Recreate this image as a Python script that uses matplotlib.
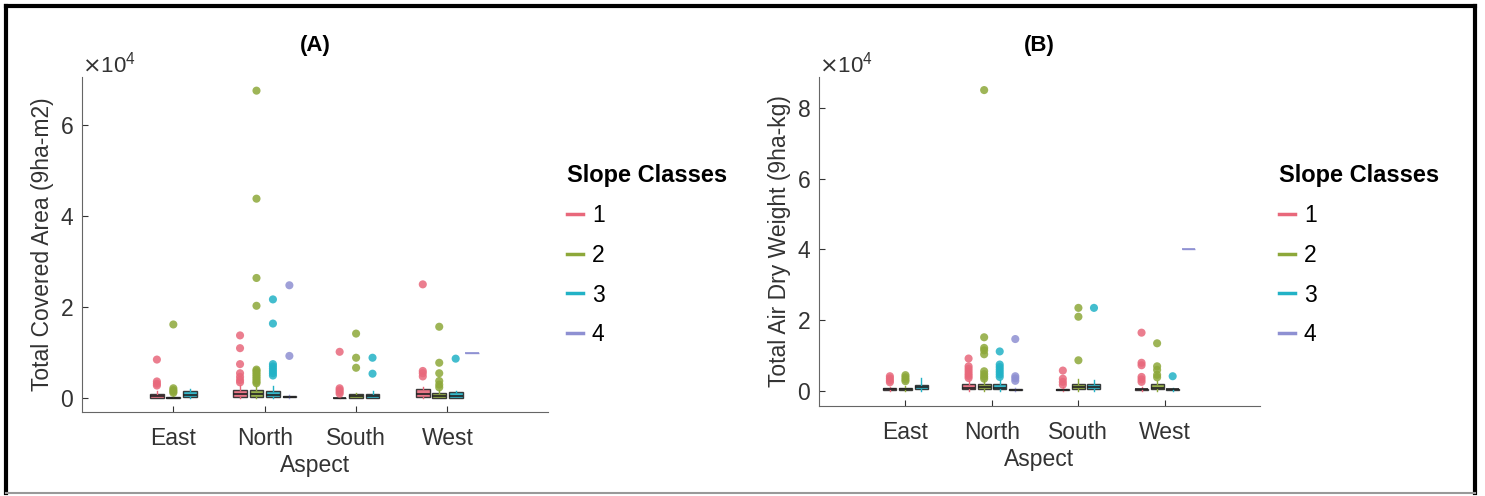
import numpy as np
import matplotlib
matplotlib.use("Agg")
import matplotlib.pyplot as plt
from matplotlib.lines import Line2D

plt.rcParams['font.family'] = ['Liberation Sans', 'DejaVu Sans']

aspects = ["East", "North", "South", "West"]
slope_classes = ["1", "2", "3", "4"]
class_colors = ["#E8687B", "#8DA83A", "#22B2C6", "#8E90D2"]

# (A) Total covered area -- box stats per aspect (rows) and slope class (cols), None = class absent
area_q1 = [[150, 50, 200, None], [300, 300, 200, 200], [0, 100, 100, None], [200, 100, 100, 10000]]
area_med = [[400, 150, 700, None], [900, 1000, 700, 350], [50, 400, 400, None], [1000, 600, 500, 10000]]
area_q3 = [[1000, 300, 1600, None], [1800, 1900, 1600, 500], [150, 900, 900, None], [2000, 1200, 1300, 10000]]
area_hi = [[1500, 600, 2000, None], [3000, 2800, 2800, 700], [300, 1200, 1500, None], [2500, 1800, 1600, 10000]]
area_out = [
    [[8500, 3700, 3200, 2800], [16200, 2200, 1800, 1500, 1200], [], None],
    [[13800, 11000, 7500, 5500, 4700, 4000, 3500],
     [67500, 43800, 26400, 20300, 6300, 6000, 5600, 5200, 4800, 4400, 4000, 3600, 3300],
     [21700, 16400, 7500, 7000, 6500, 6000, 5500, 5000],
     [24800, 9300]],
    [[10200, 2200, 1800, 1400, 1000], [14200, 8900, 6700], [8900, 5400], None],
    [[25000, 6000, 5500, 4800], [15700, 7800, 5500, 3800, 3000, 2400], [8700], []],
]

# (B) Total air dry weight
weight_q1 = [[300, 300, 600, None], [500, 600, 500, 300], [200, 600, 600, None], [300, 500, 300, 40000]]
weight_med = [[500, 500, 1100, None], [1000, 1100, 1000, 450], [400, 1200, 1200, None], [500, 1000, 500, 40000]]
weight_q3 = [[800, 800, 1800, None], [2000, 2000, 2000, 600], [600, 2000, 2000, None], [700, 1900, 700, 40000]]
weight_hi = [[1200, 1500, 3800, None], [2800, 2800, 3200, 800], [1200, 3500, 3000, None], [1200, 2800, 1000, 40000]]
weight_out = [
    [[4200, 3600, 3000, 2500], [4500, 3900, 3300, 2800], [], None],
    [[9200, 7000, 6300, 5600, 4900, 4300, 3700],
     [85000, 15200, 12200, 11500, 10400, 5600, 4800, 4100, 3500],
     [11200, 7500, 6800, 6100, 5400, 4700, 4000],
     [14700, 4200, 3600, 2900]],
    [[5800, 3500, 2600, 1800], [23500, 21000, 8700], [23500], None],
    [[16500, 8000, 7300, 4000, 3300, 2600], [13500, 7000, 6000, 4600, 3900], [4200], []],
]


def draw_panel(ax, q1, med, q3, hi, out, ylabel, title, ylim, yticks):
    spacing = 0.18
    for i, asp in enumerate(aspects):
        present = [j for j in range(4) if q1[i][j] is not None]
        n = len(present)
        for k, j in enumerate(present):
            pos = i + 1 + (k - (n - 1) / 2) * spacing
            col = class_colors[j]
            flat = q1[i][j] == q3[i][j]
            lo = max(q1[i][j] - 0.5 * (q3[i][j] - q1[i][j]), 0)
            stats = [dict(med=med[i][j], q1=q1[i][j], q3=q3[i][j],
                          whislo=min(lo, q1[i][j]), whishi=hi[i][j], fliers=[])]
            ax.bxp(stats, positions=[pos], widths=0.15, patch_artist=True,
                   showcaps=False, manage_ticks=False,
                   boxprops=dict(facecolor=col, edgecolor=col if flat else "#2b2b2b",
                                 linewidth=1.0, alpha=0.9),
                   medianprops=dict(color=col if flat else "#222222", linewidth=1.2),
                   whiskerprops=dict(color=col, linewidth=1.0))
            pts = out[i][j]
            if pts:
                ax.scatter(np.full(len(pts), pos), pts, s=34, color=col,
                           alpha=0.85, edgecolors="none", zorder=3)

    ax.set_xlim(0, 5.1)
    ax.set_ylim(*ylim)
    ax.set_xticks(range(1, 5))
    ax.set_xticklabels(aspects)
    ax.set_yticks(yticks)
    ax.ticklabel_format(axis='y', style='sci', scilimits=(4, 4), useMathText=True)
    ax.yaxis.get_offset_text().set_fontsize(16)
    ax.yaxis.get_offset_text().set_color("#333333")
    for s in ["top", "right"]:
        ax.spines[s].set_visible(False)
    for s in ["left", "bottom"]:
        ax.spines[s].set_color("#666666")
    ax.tick_params(direction="in", length=4, labelsize=16.5, colors="#333333", pad=11)
    ax.tick_params(axis="y", pad=6)
    ax.set_xlabel("Aspect", fontsize=16.5, color="#333333", labelpad=3)
    ax.set_ylabel(ylabel, fontsize=16.5, color="#333333", labelpad=4)
    ax.set_title(title, fontsize=16, fontweight="bold", pad=19)

    handles = [Line2D([0], [0], color=c, lw=2.5) for c in class_colors]
    return handles


fig = plt.figure(figsize=(14.85, 4.96), dpi=100)
axA = fig.add_axes([0.0552, 0.1694, 0.3138, 0.6754])
axB = fig.add_axes([0.5515, 0.1815, 0.2970, 0.6633])

hA = draw_panel(axA, area_q1, area_med, area_q3, area_hi, area_out,
                "Total Covered Area (9ha-m2)", "(A)", (-3000, 70500), [0, 20000, 40000, 60000])
hB = draw_panel(axB, weight_q1, weight_med, weight_q3, weight_hi, weight_out,
                "Total Air Dry Weight (9ha-kg)", "(B)", (-4200, 88700), [0, 20000, 40000, 60000, 80000])

for handles, x0 in [(hA, 546), (hB, 1258)]:
    leg = fig.legend(handles, slope_classes, loc="upper left",
                     bbox_to_anchor=(x0 / 1485, 1 - 143 / 496), frameon=False,
                     fontsize=16.5, handlelength=0.7, handletextpad=0.4, labelspacing=0.74,
                     title="Slope Classes", title_fontproperties={"weight": "bold", "size": 17})
    leg._legend_box.align = "left"

# outer frame
fig.add_artist(Line2D([6 / 1485, 6 / 1485], [3 / 496, 1 - 6 / 496], color="black", lw=3, transform=fig.transFigure))
fig.add_artist(Line2D([6 / 1485, 1475 / 1485], [1 - 6 / 496, 1 - 6 / 496], color="black", lw=3, transform=fig.transFigure))
fig.add_artist(Line2D([1475 / 1485, 1475 / 1485], [3 / 496, 1 - 6 / 496], color="black", lw=3, transform=fig.transFigure))
fig.add_artist(Line2D([6 / 1485, 1475 / 1485], [3 / 496, 3 / 496], color="#999999", lw=1.5, transform=fig.transFigure))

fig.savefig("out.png", dpi=100)
